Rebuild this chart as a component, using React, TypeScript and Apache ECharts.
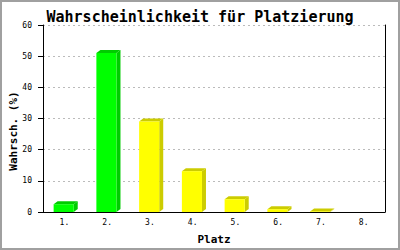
import React, { useEffect, useRef } from "react";
import * as echarts from "echarts";

const titleText = "Wahrscheinlichkeit für Platzierung";
const xAxisName = "Platz";
const yAxisName = "Wahrsch. (%)";
const categories = ["1.", "2.", "3.", "4.", "5.", "6.", "7.", "8."];
const probabilities = [2.5, 51.0, 29.0, 13.1, 4.1, 0.9, 0.2, 0];
const yMin = 0;
const yMax = 60;
const yInterval = 10;
const promotedPlaces = 2;

const FONT = "'DejaVu Sans Mono', 'Liberation Mono', monospace";

export default function App() {
  const ref = useRef<HTMLDivElement>(null);
  useEffect(() => {
    if (!ref.current) return;
    const chart = echarts.init(ref.current, null, { renderer: "svg" });
    const data = probabilities.map((v, i) => [i, v]);
    chart.setOption({
      animation: false,
      backgroundColor: "#ffffff",
      title: {
        text: titleText,
        left: "center",
        top: 4,
        textStyle: { fontFamily: FONT, fontSize: 15, fontWeight: "bold", color: "#000" },
      },
      grid: { left: 43, right: 15, top: 25, bottom: 36, containLabel: false },
      xAxis: {
        type: "category",
        data: categories,
        name: xAxisName,
        nameLocation: "middle",
        nameGap: 22,
        nameTextStyle: { fontFamily: FONT, fontSize: 11, fontWeight: "bold", color: "#000" },
        axisLine: { show: true, lineStyle: { color: "#000", width: 1 } },
        axisTick: { show: false },
        axisLabel: { fontFamily: FONT, fontSize: 8, color: "#000", margin: 6 },
        splitLine: { show: false },
      },
      yAxis: [
        {
          type: "value",
          min: yMin,
          max: yMax,
          interval: yInterval,
          axisLine: { show: true, lineStyle: { color: "#000", width: 1 } },
          axisTick: { show: true, length: 5, lineStyle: { color: "#000" } },
          axisLabel: { fontFamily: FONT, fontSize: 8, color: "#000", margin: 11 },
          splitLine: { show: true, lineStyle: { color: "#bbbbbb", type: [2, 3], width: 1 } },
        },
        {
          type: "value",
          min: yMin,
          max: yMax,
          interval: yInterval,
          position: "right",
          axisLine: { show: true, lineStyle: { color: "#000", width: 1 } },
          axisTick: { show: false },
          axisLabel: { show: false },
          splitLine: { show: false },
        },
      ],
      graphic: [
        {
          type: "rect",
          shape: { x: 1, y: 1, width: 398, height: 248 },
          style: { fill: "none", stroke: "#a0a0a0", lineWidth: 2 },
          silent: true,
        },
        {
          type: "text",
          x: 13,
          y: 131,
          rotation: Math.PI / 2,
          style: {
            text: yAxisName,
            align: "center",
            verticalAlign: "middle",
            fontFamily: FONT,
            fontSize: 11,
            fontWeight: "bold",
            fill: "#000",
          },
        },
      ],
      series: [
        {
          type: "custom",
          data,
          renderItem: (params: any, api: any) => {
            const idx = api.value(0);
            const val = api.value(1);
            if (!(val > 0)) return null;
            const top = api.coord([idx, val]);
            const base = api.coord([idx, 0]);
            const bw = api.size([1, 0])[0] * 0.47;
            const left = top[0] - bw / 2 - 0.7;
            const right = left + bw;
            const dx = 4;
            const dy = 3;
            const green = idx < promotedPlaces;
            const front = green ? "#00ff00" : "#ffff00";
            const dark = green ? "#00cc00" : "#cccc00";
            return {
              type: "group",
              children: [
                {
                  type: "polygon",
                  shape: {
                    points: [
                      [right, top[1]],
                      [right + dx, top[1] - dy],
                      [right + dx, base[1] - dy],
                      [right, base[1]],
                    ],
                  },
                  style: { fill: dark },
                },
                {
                  type: "polygon",
                  shape: {
                    points: [
                      [left, top[1]],
                      [left + dx, top[1] - dy],
                      [right + dx, top[1] - dy],
                      [right, top[1]],
                    ],
                  },
                  style: { fill: dark },
                },
                {
                  type: "rect",
                  shape: { x: left, y: top[1], width: bw, height: base[1] - top[1] },
                  style: { fill: front },
                },
              ],
            };
          },
        },
      ],
    });
    return () => chart.dispose();
  }, []);
  return (
    <div
      ref={ref}
      style={{ position: "fixed", left: 0, top: 0, width: 400, height: 250 }}
    />
  );
}
